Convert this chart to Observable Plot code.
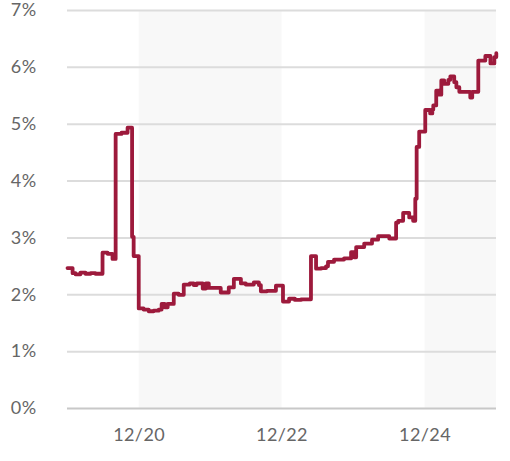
<!DOCTYPE html>
<html><head><meta charset="utf-8">
<script src="https://cdn.jsdelivr.net/npm/d3@7"></script>
<script src="https://cdn.jsdelivr.net/npm/@observablehq/plot@0.6"></script>
<style>html,body{margin:0;padding:0;background:#fff}</style>
</head><body><div id="chart"></div>
<script>
const dates = ["2019-12-01","2019-12-27","2020-01-11","2020-02-05","2020-03-02","2020-03-28","2020-04-22","2020-05-28","2020-06-23","2020-07-18","2020-08-03","2020-09-02","2020-10-03","2020-10-26","2020-11-03","2020-11-29","2020-12-24","2021-01-19","2021-02-13","2021-03-11","2021-03-26","2021-04-11","2021-04-26","2021-05-27","2021-06-21","2021-07-17","2021-08-17","2021-09-06","2021-09-21","2021-10-22","2021-11-07","2021-11-22","2021-12-23","2022-01-22","2022-03-04","2022-03-30","2022-05-05","2022-05-30","2022-07-10","2022-08-05","2022-08-15","2022-09-15","2022-10-31","2022-12-06","2023-01-06","2023-02-05","2023-03-08","2023-04-28","2023-05-24","2023-06-18","2023-07-14","2023-07-24","2023-08-24","2023-10-14","2023-11-19","2023-12-04","2023-12-15","2024-01-25","2024-03-05","2024-04-05","2024-06-01","2024-07-06","2024-07-17","2024-08-11","2024-09-11","2024-10-01","2024-10-12","2024-10-19","2024-11-01","2024-12-02","2024-12-27","2025-01-07","2025-01-12","2025-01-27","2025-02-12","2025-02-22","2025-03-09","2025-03-30","2025-04-09","2025-04-29","2025-05-10","2025-05-25","2025-07-20","2025-07-30","2025-08-30","2025-10-05","2025-10-31","2025-11-20","2025-11-30"];
const rates = [2.47,2.38,2.36,2.39,2.37,2.38,2.37,2.74,2.72,2.63,4.83,4.85,4.94,3.02,2.68,1.76,1.74,1.71,1.72,1.74,1.84,1.78,1.84,2.02,2.00,2.18,2.20,2.17,2.20,2.11,2.20,2.12,2.12,2.04,2.13,2.28,2.20,2.18,2.22,2.17,2.06,2.07,2.16,1.88,1.93,1.91,1.92,2.68,2.46,2.47,2.50,2.58,2.62,2.64,2.75,2.66,2.84,2.90,2.97,3.03,2.99,3.27,3.30,3.44,3.36,3.30,3.69,4.60,4.87,5.25,5.19,5.26,5.33,5.59,5.52,5.77,5.71,5.78,5.84,5.74,5.65,5.57,5.47,5.57,6.12,6.20,6.07,6.18,6.25];
const bandStarts = ["2020-12-01","2024-12-01"];
const bandEnds = ["2022-12-01","2025-12-01"];
const yTicks = [0,1,2,3,4,5,6,7];
const xTickDates = ["2020-12-01","2022-12-01","2024-12-01"];
const xTickLabels = ["12/20","12/22","12/24"];
const xDomain = ["2019-12-01","2025-12-01"];

const parse = d3.utcParse("%Y-%m-%d");
const data = dates.map((d,i) => ({date: parse(d), rate: rates[i]}));
const bands = bandStarts.map((s,i) => ({x1: parse(s), x2: parse(bandEnds[i])}));
const xt = xTickDates.map(parse);

const chart = Plot.plot({
  width: 510,
  height: 461,
  marginLeft: 67,
  marginRight: 14,
  marginTop: 10,
  marginBottom: 53,
  style: {fontFamily: "Lato, 'Open Sans', sans-serif", fontSize: "18px", color: "#666", background: "#fff", letterSpacing: "0.4px"},
  x: {type: "utc", domain: xDomain.map(parse), label: null},
  y: {domain: [0, 7], label: null},
  marks: [
    Plot.rect(bands, {x1: "x1", x2: "x2", y1: 0, y2: 7, fill: "#f8f8f8"}),
    Plot.ruleY(yTicks.filter(d => d > 0), {stroke: "#dcdcdc", strokeWidth: 2}),
    Plot.ruleY([0], {stroke: "#c8c8c8", strokeWidth: 2}),
    Plot.line(data, {x: "date", y: "rate", curve: "step-after", stroke: "#9d1a3c", strokeWidth: 3.8, strokeLinejoin: "round"}),
    Plot.axisY(yTicks, {tickSize: 0, tickPadding: 31, tickFormat: d => d + "%", fontSize: 18, label: null}),
    Plot.axisX(xt, {tickSize: 0, tickPadding: 20, fontSize: 18, label: null, tickFormat: d => xTickLabels[xt.findIndex(t => +t === +d)]})
  ]
});
document.getElementById("chart").appendChild(chart);
</script>
</body></html>
